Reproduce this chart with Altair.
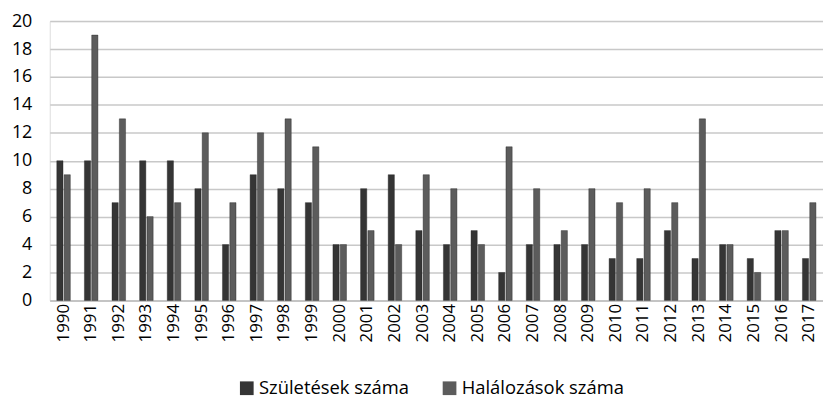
import altair as alt
import pandas as pd

years = [str(y) for y in range(1990, 2018)]
births = [10, 10, 7, 10, 10, 8, 4, 9, 8, 7, 4, 8, 9, 5, 4, 5, 2, 4, 4, 4, 3, 3, 5, 3, 4, 3, 5, 3]
deaths = [9, 19, 13, 6, 7, 12, 7, 12, 13, 11, 4, 5, 4, 9, 8, 4, 11, 8, 5, 8, 7, 8, 7, 13, 4, 2, 5, 7]
series = ["Születések száma", "Halálozások száma"]
colors = ["#353535", "#5c5c5c"]

rows = []
for i, y in enumerate(years):
    rows.append({"year": y, "series": series[0], "value": births[i]})
    rows.append({"year": y, "series": series[1], "value": deaths[i]})
df = pd.DataFrame(rows)

FONT = "Open Sans"

chart = alt.Chart(df).mark_bar(stroke="#222222", strokeWidth=0.4).encode(
    x=alt.X("year:N", sort=years, title=None,
            scale=alt.Scale(paddingInner=0.51, paddingOuter=0.255),
            axis=alt.Axis(labelAngle=-90, labelFont=FONT, labelFontSize=17,
                          labelColor="#000000", ticks=False, domainColor="#bfbfbf",
                          domainWidth=1.5, labelPadding=3, labelBaseline="middle",
                          labelAlign="right")),
    xOffset=alt.XOffset("series:N", sort=series, scale=alt.Scale(paddingInner=0.15)),
    y=alt.Y("value:Q", title=None,
            scale=alt.Scale(domain=[0, 20], nice=False),
            axis=alt.Axis(values=list(range(0, 21, 2)), labelFont=FONT, labelFontSize=18,
                          labelColor="#000000", ticks=False, domain=False,
                          gridColor="#c8c8c8", gridWidth=1.5, labelPadding=18)),
    color=alt.Color("series:N", sort=series,
                    scale=alt.Scale(domain=series, range=colors),
                    legend=alt.Legend(title=None, orient="none", direction="horizontal",
                                      legendX=189, legendY=360,
                                      symbolType="square", symbolSize=190,
                                      symbolStrokeWidth=0, labelOffset=3,
                                      labelFont=FONT, labelFontSize=18.5, labelLimit=300,
                                      labelColor="#000000", columnPadding=31)),
).properties(
    width=778, height=281
).configure_view(stroke=None).configure(padding={"left": 3, "top": 3, "right": 0, "bottom": 0})

chart.save("out.html", embed_options={"renderer": "svg", "actions": False})
